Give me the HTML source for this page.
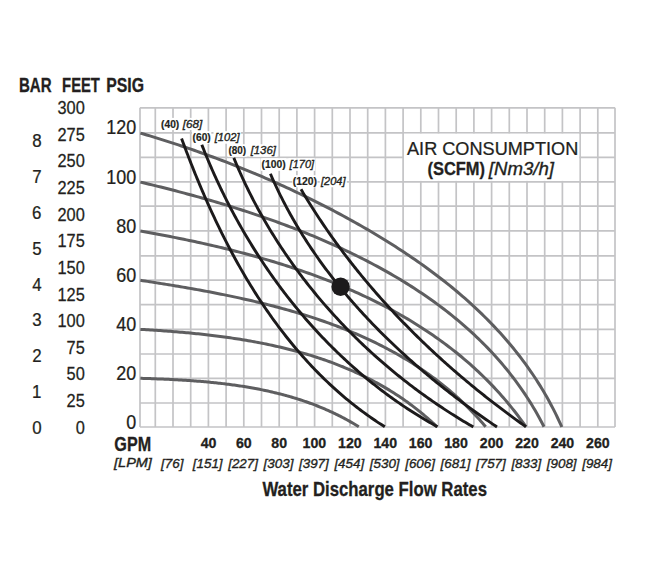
<!DOCTYPE html>
<html><head><meta charset="utf-8"><style>
html,body{margin:0;padding:0;background:#fff;}
svg{display:block;font-family:"Liberation Sans",sans-serif;}
</style></head><body>
<svg width="650" height="564" viewBox="0 0 650 564">
<rect x="0" y="0" width="650" height="564" fill="#fff"/>
<path d="M140.00 107.80V427.00 M155.30 107.80V427.00 M173.00 107.80V427.00 M190.70 107.80V427.00 M208.40 107.80V427.00 M226.10 107.80V427.00 M243.80 107.80V427.00 M261.50 107.80V427.00 M279.20 107.80V427.00 M296.90 107.80V427.00 M314.60 107.80V427.00 M332.30 107.80V427.00 M350.00 107.80V427.00 M367.70 107.80V427.00 M385.40 107.80V427.00 M403.10 107.80V427.00 M420.80 107.80V427.00 M438.50 107.80V427.00 M456.20 107.80V427.00 M473.90 107.80V427.00 M491.60 107.80V427.00 M509.30 107.80V427.00 M527.00 107.80V427.00 M544.70 107.80V427.00 M562.40 107.80V427.00 M580.10 107.80V427.00 M597.80 107.80V427.00 M615.00 107.80V427.00 M140.00 427.00H615.00 M140.00 403.00H615.00 M140.00 378.40H615.00 M140.00 354.00H615.00 M140.00 329.40H615.00 M140.00 304.70H615.00 M140.00 280.20H615.00 M140.00 255.80H615.00 M140.00 230.90H615.00 M140.00 206.20H615.00 M140.00 181.80H615.00 M140.00 157.30H615.00 M140.00 132.80H615.00 M140.00 107.80H615.00" stroke="#c4c4c6" stroke-width="1.70" fill="none"/>
<rect x="404.00" y="133.70" width="175.20" height="47.20" fill="#fff"/>
<path d="M140.40 133.10 L143.58 134.03 L146.75 134.97 L149.92 135.92 L153.08 136.88 L156.25 137.86 L159.41 138.84 L162.57 139.83 L165.73 140.83 L168.88 141.84 L172.04 142.86 L175.19 143.89 L178.34 144.92 L181.48 145.97 L184.62 147.03 L187.77 148.10 L190.90 149.18 L194.04 150.27 L197.17 151.37 L200.30 152.47 L203.43 153.59 L206.55 154.72 L209.67 155.86 L212.79 157.00 L215.90 158.16 L219.02 159.33 L222.13 160.51 L225.23 161.69 L228.33 162.89 L231.43 164.10 L234.53 165.32 L237.62 166.54 L240.71 167.78 L243.80 169.03 L246.88 170.29 L249.96 171.56 L253.03 172.84 L256.10 174.12 L259.17 175.42 L262.23 176.73 L265.29 178.05 L268.35 179.38 L271.40 180.72 L274.45 182.07 L277.50 183.43 L280.54 184.80 L283.57 186.18 L286.61 187.57 L289.64 188.98 L292.66 190.39 L295.68 191.81 L298.70 193.24 L301.71 194.69 L304.71 196.14 L307.72 197.61 L310.72 199.08 L313.71 200.57 L316.70 202.06 L319.68 203.57 L322.66 205.09 L325.64 206.62 L328.61 208.15 L331.58 209.70 L334.54 211.26 L337.49 212.83 L340.45 214.41 L343.39 216.01 L346.33 217.61 L349.27 219.22 L352.20 220.85 L355.13 222.48 L358.05 224.13 L360.96 225.78 L363.87 227.45 L366.77 229.13 L369.67 230.82 L372.56 232.52 L375.44 234.24 L378.31 235.96 L381.18 237.70 L384.04 239.45 L386.89 241.22 L389.73 242.99 L392.56 244.78 L395.38 246.58 L398.20 248.39 L401.00 250.22 L403.80 252.06 L406.58 253.91 L409.35 255.77 L412.12 257.65 L414.87 259.55 L417.61 261.45 L420.34 263.37 L423.06 265.31 L425.77 267.25 L428.46 269.22 L431.14 271.19 L433.81 273.18 L436.47 275.19 L439.11 277.21 L441.74 279.24 L444.35 281.29 L446.95 283.36 L449.54 285.44 L452.11 287.53 L454.67 289.64 L457.21 291.77 L459.73 293.91 L462.24 296.07 L464.74 298.24 L467.22 300.43 L469.68 302.64 L472.12 304.86 L474.55 307.10 L476.96 309.36 L479.35 311.63 L481.73 313.92 L484.08 316.23 L486.42 318.55 L488.74 320.89 L491.04 323.25 L493.32 325.62 L495.59 328.02 L497.83 330.43 L500.05 332.86 L502.25 335.31 L504.43 337.77 L506.59 340.25 L508.73 342.76 L510.85 345.28 L512.95 347.81 L515.02 350.37 L517.08 352.95 L519.11 355.54 L521.11 358.16 L523.10 360.79 L525.06 363.45 L527.00 366.12 L528.91 368.81 L530.80 371.53 L532.67 374.26 L534.51 377.01 L536.33 379.78 L538.12 382.58 L539.89 385.39 L541.63 388.22 L543.34 391.08 L545.03 393.96 L546.69 396.85 L548.33 399.77 L549.94 402.71 L551.52 405.67 L553.07 408.65 L554.60 411.65 L556.10 414.68 L557.57 417.73 L559.01 420.79 L560.42 423.89 L561.81 427.00" stroke="#5e5e60" stroke-width="3.00" fill="none" stroke-linecap="butt"/>
<path d="M140.40 182.10 L143.31 182.79 L146.23 183.49 L149.15 184.19 L152.07 184.90 L154.99 185.62 L157.91 186.34 L160.84 187.07 L163.77 187.81 L166.70 188.55 L169.64 189.30 L172.57 190.06 L175.51 190.82 L178.45 191.59 L181.39 192.36 L184.34 193.15 L187.28 193.94 L190.22 194.74 L193.17 195.54 L196.12 196.36 L199.06 197.18 L202.01 198.00 L204.96 198.84 L207.91 199.68 L210.86 200.54 L213.81 201.39 L216.76 202.26 L219.70 203.14 L222.65 204.02 L225.60 204.91 L228.55 205.81 L231.49 206.72 L234.44 207.64 L237.38 208.57 L240.32 209.50 L243.26 210.45 L246.20 211.40 L249.14 212.36 L252.07 213.33 L255.01 214.31 L257.94 215.30 L260.87 216.30 L263.79 217.31 L266.72 218.33 L269.64 219.35 L272.56 220.39 L275.47 221.44 L278.39 222.50 L281.29 223.56 L284.20 224.64 L287.10 225.73 L290.00 226.82 L292.90 227.93 L295.79 229.05 L298.67 230.18 L301.56 231.32 L304.43 232.47 L307.31 233.63 L310.18 234.80 L313.04 235.98 L315.90 237.18 L318.75 238.38 L321.60 239.60 L324.44 240.83 L327.28 242.06 L330.11 243.31 L332.94 244.58 L335.76 245.85 L338.58 247.13 L341.38 248.43 L344.19 249.74 L346.98 251.06 L349.77 252.39 L352.55 253.74 L355.33 255.10 L358.09 256.47 L360.85 257.85 L363.61 259.24 L366.35 260.65 L369.09 262.07 L371.82 263.50 L374.54 264.95 L377.25 266.41 L379.96 267.88 L382.65 269.37 L385.34 270.87 L388.01 272.38 L390.68 273.91 L393.34 275.45 L395.98 277.00 L398.62 278.57 L401.25 280.15 L403.86 281.75 L406.47 283.36 L409.06 284.98 L411.65 286.62 L414.22 288.28 L416.78 289.95 L419.32 291.63 L421.86 293.33 L424.38 295.04 L426.90 296.77 L429.39 298.52 L431.88 300.28 L434.35 302.05 L436.81 303.84 L439.26 305.65 L441.69 307.47 L444.10 309.31 L446.51 311.17 L448.90 313.04 L451.27 314.93 L453.63 316.83 L455.98 318.75 L458.31 320.69 L460.62 322.64 L462.92 324.61 L465.20 326.60 L467.47 328.60 L469.72 330.62 L471.95 332.66 L474.17 334.72 L476.37 336.79 L478.55 338.88 L480.72 340.99 L482.87 343.12 L485.00 345.26 L487.11 347.42 L489.21 349.60 L491.28 351.80 L493.34 354.02 L495.38 356.26 L497.40 358.51 L499.40 360.78 L501.38 363.08 L503.34 365.39 L505.29 367.72 L507.21 370.06 L509.11 372.43 L510.99 374.82 L512.85 377.23 L514.69 379.65 L516.51 382.10 L518.31 384.57 L520.08 387.05 L521.84 389.56 L523.57 392.08 L525.28 394.63 L526.97 397.20 L528.64 399.78 L530.28 402.39 L531.90 405.02 L533.50 407.67 L535.07 410.34 L536.62 413.03 L538.14 415.74 L539.65 418.47 L541.12 421.23 L542.58 424.00 L544.01 426.80" stroke="#5e5e60" stroke-width="3.00" fill="none" stroke-linecap="butt"/>
<path d="M140.40 231.10 L143.10 231.57 L145.79 232.04 L148.49 232.52 L151.19 233.01 L153.89 233.50 L156.60 234.00 L159.31 234.50 L162.02 235.01 L164.73 235.52 L167.44 236.04 L170.16 236.57 L172.88 237.10 L175.60 237.64 L178.32 238.18 L181.05 238.73 L183.77 239.29 L186.50 239.85 L189.23 240.42 L191.96 241.00 L194.69 241.58 L197.42 242.17 L200.15 242.77 L202.89 243.37 L205.62 243.98 L208.35 244.60 L211.08 245.22 L213.82 245.86 L216.55 246.50 L219.28 247.14 L222.02 247.80 L224.75 248.46 L227.48 249.13 L230.21 249.81 L232.94 250.50 L235.67 251.19 L238.40 251.89 L241.13 252.60 L243.85 253.32 L246.58 254.05 L249.30 254.78 L252.02 255.53 L254.74 256.28 L257.46 257.04 L260.17 257.81 L262.88 258.59 L265.59 259.37 L268.30 260.17 L271.01 260.98 L273.71 261.79 L276.41 262.61 L279.11 263.45 L281.80 264.29 L284.49 265.14 L287.18 266.00 L289.87 266.88 L292.55 267.76 L295.22 268.65 L297.90 269.55 L300.56 270.46 L303.23 271.38 L305.89 272.31 L308.55 273.26 L311.20 274.21 L313.85 275.17 L316.49 276.14 L319.13 277.13 L321.76 278.12 L324.39 279.13 L327.01 280.14 L329.63 281.17 L332.24 282.21 L334.84 283.26 L337.45 284.32 L340.04 285.39 L342.63 286.47 L345.21 287.57 L347.79 288.67 L350.36 289.79 L352.92 290.92 L355.48 292.06 L358.03 293.22 L360.57 294.38 L363.11 295.56 L365.64 296.75 L368.16 297.95 L370.68 299.16 L373.18 300.39 L375.68 301.63 L378.18 302.88 L380.66 304.14 L383.14 305.42 L385.61 306.71 L388.07 308.01 L390.52 309.33 L392.96 310.66 L395.40 312.00 L397.82 313.36 L400.24 314.72 L402.65 316.11 L405.05 317.50 L407.44 318.91 L409.82 320.33 L412.19 321.77 L414.55 323.22 L416.90 324.68 L419.24 326.16 L421.58 327.65 L423.90 329.16 L426.21 330.68 L428.51 332.22 L430.80 333.77 L433.08 335.33 L435.35 336.91 L437.61 338.50 L439.86 340.11 L442.09 341.73 L444.32 343.37 L446.53 345.03 L448.74 346.69 L450.93 348.38 L453.11 350.08 L455.28 351.79 L457.43 353.52 L459.57 355.27 L461.71 357.03 L463.82 358.80 L465.93 360.59 L468.02 362.40 L470.11 364.23 L472.17 366.07 L474.23 367.92 L476.27 369.80 L478.30 371.69 L480.32 373.59 L482.32 375.51 L484.31 377.45 L486.28 379.41 L488.24 381.38 L490.19 383.37 L492.12 385.37 L494.04 387.39 L495.95 389.43 L497.84 391.49 L499.71 393.56 L501.57 395.65 L503.42 397.76 L505.25 399.89 L507.06 402.03 L508.86 404.19 L510.65 406.37 L512.42 408.57 L514.17 410.79 L515.91 413.02 L517.63 415.27 L519.34 417.54 L521.03 419.83 L522.71 422.13 L524.36 424.46 L526.00 426.80" stroke="#5e5e60" stroke-width="3.00" fill="none" stroke-linecap="butt"/>
<path d="M140.40 280.30 L142.74 280.66 L145.09 281.02 L147.43 281.38 L149.78 281.75 L152.14 282.12 L154.49 282.48 L156.85 282.86 L159.21 283.23 L161.57 283.61 L163.93 283.99 L166.30 284.37 L168.67 284.76 L171.03 285.14 L173.41 285.53 L175.78 285.93 L178.15 286.33 L180.53 286.73 L182.90 287.13 L185.28 287.54 L187.66 287.95 L190.04 288.37 L192.42 288.79 L194.81 289.21 L197.19 289.64 L199.57 290.07 L201.96 290.51 L204.34 290.95 L206.73 291.39 L209.11 291.84 L211.50 292.29 L213.88 292.75 L216.27 293.22 L218.65 293.68 L221.04 294.16 L223.42 294.64 L225.81 295.12 L228.19 295.61 L230.58 296.11 L232.96 296.61 L235.34 297.11 L237.72 297.62 L240.10 298.14 L242.48 298.67 L244.86 299.20 L247.24 299.73 L249.61 300.27 L251.99 300.82 L254.36 301.38 L256.73 301.94 L259.10 302.51 L261.47 303.08 L263.83 303.66 L266.19 304.25 L268.56 304.85 L270.91 305.45 L273.27 306.06 L275.63 306.68 L277.98 307.31 L280.33 307.94 L282.67 308.58 L285.02 309.23 L287.36 309.89 L289.70 310.55 L292.03 311.22 L294.36 311.90 L296.69 312.59 L299.02 313.29 L301.34 314.00 L303.66 314.71 L305.97 315.43 L308.28 316.16 L310.59 316.91 L312.89 317.66 L315.19 318.41 L317.48 319.18 L319.77 319.96 L322.06 320.75 L324.34 321.54 L326.62 322.35 L328.89 323.16 L331.16 323.99 L333.42 324.82 L335.68 325.67 L337.93 326.52 L340.18 327.39 L342.43 328.27 L344.66 329.15 L346.90 330.05 L349.12 330.96 L351.34 331.87 L353.56 332.80 L355.77 333.74 L357.97 334.69 L360.17 335.66 L362.36 336.63 L364.55 337.61 L366.73 338.61 L368.90 339.62 L371.07 340.63 L373.23 341.66 L375.38 342.71 L377.53 343.76 L379.67 344.83 L381.80 345.91 L383.93 347.00 L386.05 348.10 L388.16 349.21 L390.27 350.34 L392.36 351.48 L394.45 352.64 L396.54 353.80 L398.61 354.98 L400.68 356.17 L402.74 357.38 L404.79 358.60 L406.83 359.83 L408.87 361.07 L410.89 362.33 L412.91 363.60 L414.92 364.89 L416.92 366.19 L418.91 367.50 L420.90 368.83 L422.87 370.17 L424.84 371.53 L426.80 372.90 L428.75 374.28 L430.68 375.68 L432.61 377.09 L434.53 378.52 L436.45 379.96 L438.35 381.42 L440.24 382.90 L442.12 384.38 L443.99 385.89 L445.85 387.41 L447.70 388.94 L449.55 390.49 L451.38 392.06 L453.20 393.64 L455.01 395.23 L456.81 396.85 L458.60 398.48 L460.38 400.12 L462.14 401.78 L463.90 403.46 L465.65 405.15 L467.38 406.86 L469.11 408.59 L470.82 410.34 L472.52 412.10 L474.21 413.87 L475.89 415.67 L477.55 417.48 L479.21 419.31 L480.85 421.16 L482.48 423.02 L484.10 424.90 L485.70 426.80" stroke="#5e5e60" stroke-width="3.00" fill="none" stroke-linecap="butt"/>
<path d="M140.40 329.40 L142.38 329.51 L144.35 329.62 L146.33 329.74 L148.31 329.85 L150.30 329.97 L152.28 330.10 L154.27 330.22 L156.25 330.35 L158.24 330.48 L160.23 330.62 L162.22 330.76 L164.22 330.90 L166.21 331.04 L168.20 331.19 L170.20 331.34 L172.20 331.49 L174.20 331.65 L176.19 331.81 L178.19 331.98 L180.19 332.15 L182.20 332.32 L184.20 332.50 L186.20 332.68 L188.20 332.86 L190.21 333.05 L192.21 333.24 L194.21 333.44 L196.22 333.64 L198.22 333.85 L200.23 334.06 L202.23 334.28 L204.24 334.50 L206.24 334.72 L208.25 334.95 L210.25 335.18 L212.25 335.42 L214.26 335.67 L216.26 335.92 L218.26 336.17 L220.27 336.43 L222.27 336.70 L224.27 336.97 L226.27 337.25 L228.27 337.53 L230.27 337.82 L232.27 338.11 L234.27 338.41 L236.26 338.71 L238.26 339.03 L240.25 339.34 L242.24 339.67 L244.24 340.00 L246.23 340.33 L248.22 340.67 L250.20 341.02 L252.19 341.38 L254.17 341.74 L256.16 342.11 L258.14 342.48 L260.12 342.86 L262.10 343.25 L264.07 343.65 L266.05 344.05 L268.02 344.46 L269.99 344.88 L271.95 345.30 L273.92 345.73 L275.88 346.17 L277.84 346.62 L279.80 347.07 L281.76 347.53 L283.71 348.00 L285.66 348.48 L287.61 348.96 L289.56 349.45 L291.50 349.95 L293.44 350.46 L295.38 350.98 L297.31 351.50 L299.24 352.04 L301.17 352.58 L303.10 353.13 L305.02 353.69 L306.94 354.25 L308.85 354.83 L310.77 355.42 L312.68 356.01 L314.58 356.61 L316.48 357.22 L318.38 357.84 L320.27 358.47 L322.17 359.11 L324.05 359.76 L325.93 360.42 L327.81 361.08 L329.69 361.76 L331.56 362.44 L333.43 363.14 L335.29 363.84 L337.15 364.56 L339.00 365.28 L340.85 366.02 L342.70 366.76 L344.54 367.52 L346.37 368.28 L348.20 369.06 L350.03 369.84 L351.85 370.64 L353.67 371.45 L355.48 372.26 L357.29 373.09 L359.09 373.93 L360.89 374.78 L362.68 375.64 L364.47 376.51 L366.25 377.39 L368.03 378.29 L369.80 379.19 L371.56 380.11 L373.32 381.03 L375.08 381.97 L376.83 382.92 L378.57 383.88 L380.31 384.85 L382.04 385.84 L383.76 386.83 L385.48 387.84 L387.20 388.86 L388.90 389.89 L390.61 390.94 L392.30 391.99 L393.99 393.06 L395.67 394.14 L397.35 395.24 L399.02 396.34 L400.68 397.46 L402.34 398.59 L403.99 399.73 L405.63 400.89 L407.27 402.06 L408.90 403.24 L410.52 404.44 L412.14 405.64 L413.75 406.86 L415.35 408.10 L416.95 409.34 L418.53 410.61 L420.11 411.88 L421.69 413.17 L423.25 414.47 L424.81 415.78 L426.36 417.11 L427.90 418.45 L429.44 419.81 L430.97 421.18 L432.49 422.56 L434.00 423.96 L435.50 425.37 L437.00 426.80" stroke="#5e5e60" stroke-width="3.00" fill="none" stroke-linecap="butt"/>
<path d="M140.40 378.30 L141.81 378.34 L143.22 378.39 L144.62 378.43 L146.03 378.47 L147.45 378.52 L148.86 378.57 L150.27 378.62 L151.68 378.67 L153.10 378.72 L154.51 378.77 L155.93 378.82 L157.35 378.88 L158.77 378.93 L160.18 378.99 L161.60 379.05 L163.02 379.11 L164.44 379.17 L165.86 379.23 L167.29 379.30 L168.71 379.36 L170.13 379.43 L171.55 379.50 L172.98 379.57 L174.40 379.65 L175.82 379.72 L177.25 379.80 L178.67 379.88 L180.10 379.96 L181.53 380.05 L182.95 380.13 L184.38 380.22 L185.80 380.31 L187.23 380.41 L188.66 380.50 L190.08 380.60 L191.51 380.70 L192.94 380.80 L194.37 380.91 L195.79 381.02 L197.22 381.13 L198.65 381.24 L200.07 381.36 L201.50 381.48 L202.93 381.60 L204.35 381.72 L205.78 381.85 L207.21 381.98 L208.63 382.11 L210.06 382.25 L211.48 382.39 L212.91 382.53 L214.33 382.68 L215.76 382.83 L217.18 382.98 L218.60 383.14 L220.03 383.30 L221.45 383.46 L222.87 383.63 L224.29 383.79 L225.71 383.97 L227.13 384.15 L228.55 384.33 L229.97 384.51 L231.39 384.70 L232.81 384.89 L234.22 385.09 L235.64 385.29 L237.05 385.49 L238.47 385.70 L239.88 385.91 L241.29 386.13 L242.71 386.35 L244.12 386.57 L245.53 386.80 L246.94 387.03 L248.34 387.27 L249.75 387.51 L251.15 387.76 L252.56 388.01 L253.96 388.27 L255.36 388.52 L256.77 388.79 L258.16 389.06 L259.56 389.33 L260.96 389.61 L262.36 389.89 L263.75 390.18 L265.14 390.48 L266.53 390.77 L267.93 391.08 L269.31 391.39 L270.70 391.70 L272.09 392.02 L273.47 392.34 L274.85 392.67 L276.23 393.00 L277.61 393.34 L278.99 393.69 L280.37 394.04 L281.74 394.40 L283.12 394.76 L284.49 395.12 L285.86 395.50 L287.22 395.87 L288.59 396.26 L289.95 396.65 L291.31 397.04 L292.67 397.45 L294.03 397.85 L295.39 398.27 L296.74 398.69 L298.09 399.11 L299.44 399.54 L300.79 399.98 L302.13 400.42 L303.48 400.87 L304.82 401.33 L306.16 401.79 L307.49 402.26 L308.83 402.74 L310.16 403.22 L311.49 403.71 L312.82 404.20 L314.14 404.70 L315.47 405.21 L316.79 405.73 L318.10 406.25 L319.42 406.78 L320.73 407.31 L322.04 407.86 L323.35 408.41 L324.65 408.96 L325.96 409.53 L327.26 410.10 L328.55 410.67 L329.85 411.26 L331.14 411.85 L332.43 412.45 L333.71 413.06 L335.00 413.67 L336.28 414.29 L337.55 414.92 L338.83 415.56 L340.10 416.20 L341.37 416.85 L342.63 417.51 L343.90 418.18 L345.16 418.85 L346.41 419.54 L347.67 420.23 L348.92 420.92 L350.16 421.63 L351.41 422.34 L352.65 423.07 L353.88 423.80 L355.12 424.54 L356.35 425.28 L357.58 426.04 L358.80 426.80" stroke="#5e5e60" stroke-width="3.00" fill="none" stroke-linecap="butt"/>
<path d="M181.60 138.60 L182.37 140.69 L183.14 142.79 L183.92 144.88 L184.71 146.97 L185.50 149.07 L186.29 151.16 L187.09 153.25 L187.89 155.35 L188.70 157.44 L189.51 159.53 L190.33 161.62 L191.15 163.72 L191.98 165.81 L192.81 167.90 L193.64 169.99 L194.49 172.08 L195.33 174.17 L196.19 176.25 L197.04 178.34 L197.91 180.43 L198.77 182.51 L199.65 184.60 L200.52 186.68 L201.41 188.76 L202.30 190.84 L203.19 192.92 L204.09 195.00 L205.00 197.07 L205.91 199.14 L206.82 201.22 L207.75 203.29 L208.67 205.35 L209.61 207.42 L210.55 209.49 L211.49 211.55 L212.44 213.61 L213.40 215.67 L214.36 217.72 L215.33 219.77 L216.30 221.82 L217.28 223.87 L218.27 225.92 L219.26 227.96 L220.26 230.00 L221.26 232.04 L222.27 234.07 L223.29 236.10 L224.31 238.13 L225.34 240.15 L226.37 242.18 L227.41 244.19 L228.46 246.21 L229.51 248.22 L230.58 250.23 L231.64 252.23 L232.72 254.23 L233.80 256.23 L234.88 258.22 L235.97 260.21 L237.07 262.20 L238.18 264.18 L239.29 266.16 L240.41 268.13 L241.54 270.10 L242.67 272.06 L243.81 274.02 L244.96 275.98 L246.11 277.93 L247.28 279.88 L248.44 281.82 L249.62 283.75 L250.80 285.69 L251.99 287.61 L253.19 289.54 L254.39 291.45 L255.60 293.36 L256.82 295.27 L258.04 297.17 L259.28 299.07 L260.52 300.96 L261.76 302.84 L263.02 304.72 L264.28 306.60 L265.55 308.46 L266.83 310.33 L268.11 312.18 L269.40 314.03 L270.70 315.88 L272.01 317.72 L273.33 319.55 L274.65 321.37 L275.98 323.19 L277.32 325.01 L278.67 326.81 L280.02 328.61 L281.38 330.41 L282.75 332.19 L284.13 333.97 L285.52 335.75 L286.91 337.51 L288.32 339.27 L289.73 341.02 L291.15 342.77 L292.57 344.51 L294.01 346.24 L295.45 347.96 L296.91 349.68 L298.37 351.38 L299.84 353.08 L301.31 354.78 L302.80 356.46 L304.29 358.14 L305.80 359.81 L307.31 361.47 L308.83 363.12 L310.36 364.77 L311.89 366.41 L313.44 368.04 L315.00 369.66 L316.56 371.27 L318.13 372.87 L319.71 374.47 L321.30 376.05 L322.90 377.63 L324.51 379.20 L326.13 380.76 L327.76 382.31 L329.39 383.85 L331.04 385.39 L332.69 386.91 L334.35 388.43 L336.02 389.93 L337.71 391.43 L339.40 392.92 L341.10 394.39 L342.81 395.86 L344.53 397.32 L346.25 398.77 L347.99 400.20 L349.74 401.63 L351.50 403.05 L353.26 404.46 L355.04 405.86 L356.83 407.25 L358.62 408.63 L360.43 409.99 L362.24 411.35 L364.07 412.70 L365.90 414.03 L367.75 415.36 L369.60 416.67 L371.47 417.98 L373.34 419.27 L375.22 420.55 L377.12 421.83 L379.02 423.09 L380.94 424.34 L382.86 425.57 L384.80 426.80" stroke="#1c1a1b" stroke-width="2.90" fill="none" stroke-linecap="butt"/>
<path d="M201.80 144.70 L202.65 146.89 L203.52 149.07 L204.39 151.25 L205.27 153.43 L206.16 155.60 L207.05 157.77 L207.96 159.94 L208.87 162.11 L209.79 164.27 L210.72 166.44 L211.66 168.59 L212.61 170.75 L213.56 172.90 L214.53 175.05 L215.50 177.19 L216.48 179.34 L217.46 181.47 L218.46 183.61 L219.46 185.74 L220.48 187.87 L221.50 190.00 L222.53 192.12 L223.56 194.24 L224.61 196.35 L225.66 198.46 L226.73 200.57 L227.80 202.67 L228.87 204.77 L229.96 206.87 L231.05 208.96 L232.16 211.05 L233.27 213.13 L234.39 215.21 L235.51 217.28 L236.65 219.35 L237.79 221.42 L238.94 223.48 L240.10 225.54 L241.27 227.60 L242.45 229.64 L243.63 231.69 L244.82 233.73 L246.02 235.76 L247.23 237.80 L248.45 239.82 L249.67 241.84 L250.90 243.86 L252.14 245.87 L253.39 247.88 L254.64 249.88 L255.91 251.88 L257.18 253.87 L258.46 255.85 L259.75 257.83 L261.04 259.81 L262.35 261.78 L263.66 263.75 L264.98 265.71 L266.30 267.66 L267.64 269.61 L268.98 271.55 L270.33 273.49 L271.69 275.42 L273.06 277.35 L274.43 279.27 L275.82 281.19 L277.21 283.09 L278.60 285.00 L280.01 286.90 L281.42 288.79 L282.84 290.67 L284.27 292.55 L285.71 294.42 L287.16 296.29 L288.61 298.15 L290.07 300.00 L291.54 301.85 L293.01 303.69 L294.50 305.53 L295.99 307.36 L297.49 309.18 L298.99 310.99 L300.51 312.80 L302.03 314.60 L303.56 316.40 L305.10 318.19 L306.64 319.97 L308.20 321.74 L309.76 323.51 L311.32 325.27 L312.90 327.02 L314.48 328.77 L316.07 330.51 L317.67 332.24 L319.28 333.96 L320.89 335.68 L322.51 337.39 L324.14 339.09 L325.78 340.79 L327.42 342.47 L329.08 344.15 L330.73 345.82 L332.40 347.49 L334.08 349.15 L335.76 350.79 L337.45 352.43 L339.14 354.07 L340.85 355.69 L342.56 357.31 L344.28 358.92 L346.01 360.52 L347.74 362.11 L349.48 363.70 L351.23 365.27 L352.99 366.84 L354.75 368.40 L356.52 369.95 L358.30 371.49 L360.09 373.03 L361.88 374.55 L363.68 376.07 L365.49 377.58 L367.30 379.07 L369.13 380.56 L370.96 382.05 L372.80 383.52 L374.64 384.98 L376.49 386.44 L378.35 387.88 L380.22 389.32 L382.09 390.75 L383.98 392.17 L385.86 393.58 L387.76 394.98 L389.66 396.37 L391.57 397.75 L393.49 399.12 L395.42 400.48 L397.35 401.83 L399.29 403.18 L401.24 404.51 L403.19 405.83 L405.15 407.15 L407.12 408.45 L409.09 409.75 L411.08 411.03 L413.07 412.30 L415.06 413.57 L417.07 414.82 L419.08 416.07 L421.10 417.30 L423.12 418.52 L425.16 419.74 L427.20 420.94 L429.24 422.13 L431.30 423.32 L433.36 424.49 L435.43 425.65 L437.50 426.80" stroke="#1c1a1b" stroke-width="2.90" fill="none" stroke-linecap="butt"/>
<path d="M233.80 157.90 L234.68 160.04 L235.57 162.17 L236.47 164.30 L237.38 166.43 L238.30 168.55 L239.22 170.67 L240.16 172.78 L241.11 174.88 L242.07 176.99 L243.03 179.08 L244.01 181.18 L244.99 183.26 L245.99 185.35 L246.99 187.43 L248.00 189.50 L249.02 191.57 L250.05 193.63 L251.09 195.69 L252.14 197.75 L253.20 199.80 L254.27 201.84 L255.34 203.88 L256.43 205.92 L257.52 207.95 L258.63 209.97 L259.74 211.99 L260.86 214.01 L261.99 216.02 L263.13 218.02 L264.27 220.02 L265.43 222.01 L266.59 224.00 L267.77 225.99 L268.95 227.97 L270.14 229.94 L271.34 231.91 L272.55 233.87 L273.76 235.83 L274.99 237.78 L276.22 239.73 L277.46 241.67 L278.71 243.61 L279.97 245.54 L281.23 247.46 L282.51 249.38 L283.79 251.30 L285.08 253.21 L286.38 255.11 L287.69 257.01 L289.00 258.90 L290.32 260.79 L291.65 262.67 L292.99 264.54 L294.34 266.41 L295.70 268.28 L297.06 270.14 L298.43 271.99 L299.81 273.84 L301.19 275.68 L302.59 277.51 L303.99 279.34 L305.40 281.17 L306.81 282.99 L308.24 284.80 L309.67 286.60 L311.11 288.41 L312.56 290.20 L314.01 291.99 L315.47 293.77 L316.94 295.55 L318.42 297.32 L319.90 299.08 L321.39 300.84 L322.89 302.59 L324.40 304.34 L325.91 306.08 L327.43 307.82 L328.96 309.54 L330.49 311.27 L332.04 312.98 L333.58 314.69 L335.14 316.39 L336.70 318.09 L338.27 319.78 L339.85 321.46 L341.43 323.14 L343.02 324.81 L344.62 326.48 L346.22 328.14 L347.83 329.79 L349.45 331.44 L351.07 333.07 L352.70 334.71 L354.34 336.33 L355.98 337.95 L357.63 339.57 L359.29 341.17 L360.95 342.77 L362.62 344.37 L364.30 345.95 L365.98 347.53 L367.67 349.11 L369.37 350.67 L371.07 352.23 L372.77 353.79 L374.49 355.33 L376.21 356.87 L377.93 358.40 L379.66 359.93 L381.40 361.45 L383.15 362.96 L384.90 364.47 L386.65 365.96 L388.42 367.45 L390.18 368.94 L391.96 370.42 L393.74 371.89 L395.52 373.35 L397.31 374.81 L399.11 376.25 L400.91 377.70 L402.72 379.13 L404.53 380.56 L406.35 381.98 L408.18 383.39 L410.01 384.80 L411.85 386.20 L413.69 387.59 L415.53 388.97 L417.39 390.35 L419.24 391.72 L421.11 393.08 L422.98 394.44 L424.85 395.78 L426.73 397.12 L428.61 398.46 L430.50 399.78 L432.39 401.10 L434.29 402.41 L436.20 403.71 L438.11 405.01 L440.02 406.29 L441.94 407.57 L443.87 408.85 L445.80 410.11 L447.73 411.37 L449.67 412.62 L451.61 413.86 L453.56 415.09 L455.51 416.32 L457.47 417.54 L459.43 418.75 L461.40 419.95 L463.37 421.14 L465.35 422.33 L467.33 423.51 L469.32 424.68 L471.31 425.84 L473.30 427.00" stroke="#1c1a1b" stroke-width="2.90" fill="none" stroke-linecap="butt"/>
<path d="M270.40 173.80 L271.26 175.80 L272.14 177.80 L273.03 179.79 L273.92 181.77 L274.83 183.75 L275.74 185.73 L276.66 187.70 L277.60 189.66 L278.54 191.62 L279.49 193.57 L280.45 195.52 L281.42 197.46 L282.40 199.39 L283.39 201.32 L284.39 203.25 L285.39 205.17 L286.41 207.08 L287.43 208.99 L288.46 210.90 L289.50 212.80 L290.55 214.69 L291.61 216.58 L292.68 218.46 L293.75 220.34 L294.84 222.21 L295.93 224.07 L297.03 225.94 L298.14 227.79 L299.26 229.64 L300.39 231.49 L301.52 233.33 L302.66 235.16 L303.81 236.99 L304.97 238.81 L306.14 240.63 L307.31 242.45 L308.49 244.25 L309.68 246.06 L310.88 247.86 L312.09 249.65 L313.30 251.43 L314.52 253.22 L315.75 254.99 L316.99 256.76 L318.23 258.53 L319.48 260.29 L320.74 262.05 L322.01 263.80 L323.28 265.54 L324.56 267.28 L325.85 269.02 L327.15 270.75 L328.45 272.47 L329.76 274.19 L331.08 275.91 L332.40 277.61 L333.73 279.32 L335.07 281.02 L336.41 282.71 L337.76 284.40 L339.12 286.08 L340.49 287.76 L341.86 289.43 L343.24 291.10 L344.62 292.76 L346.01 294.42 L347.41 296.07 L348.81 297.72 L350.22 299.36 L351.64 301.00 L353.06 302.63 L354.49 304.26 L355.92 305.88 L357.36 307.50 L358.81 309.11 L360.27 310.72 L361.72 312.32 L363.19 313.92 L364.66 315.51 L366.14 317.09 L367.62 318.68 L369.11 320.25 L370.60 321.82 L372.10 323.39 L373.61 324.95 L375.12 326.51 L376.63 328.06 L378.15 329.61 L379.68 331.15 L381.21 332.69 L382.75 334.22 L384.29 335.74 L385.84 337.26 L387.39 338.78 L388.95 340.29 L390.51 341.80 L392.08 343.30 L393.66 344.80 L395.23 346.29 L396.82 347.78 L398.40 349.26 L400.00 350.74 L401.59 352.21 L403.19 353.68 L404.80 355.14 L406.41 356.60 L408.03 358.05 L409.65 359.50 L411.27 360.94 L412.90 362.38 L414.53 363.81 L416.17 365.24 L417.81 366.66 L419.46 368.08 L421.10 369.50 L422.76 370.91 L424.42 372.31 L426.08 373.71 L427.74 375.10 L429.41 376.49 L431.08 377.88 L432.76 379.26 L434.44 380.63 L436.13 382.01 L437.81 383.37 L439.51 384.73 L441.20 386.09 L442.90 387.44 L444.60 388.79 L446.31 390.13 L448.01 391.47 L449.73 392.80 L451.44 394.13 L453.16 395.45 L454.88 396.77 L456.60 398.08 L458.33 399.39 L460.06 400.69 L461.79 401.99 L463.53 403.29 L465.27 404.58 L467.01 405.86 L468.76 407.14 L470.50 408.42 L472.25 409.69 L474.01 410.96 L475.76 412.22 L477.52 413.48 L479.28 414.73 L481.04 415.98 L482.80 417.22 L484.57 418.46 L486.34 419.69 L488.11 420.92 L489.89 422.15 L491.66 423.37 L493.44 424.58 L495.22 425.79 L497.00 427.00" stroke="#1c1a1b" stroke-width="2.90" fill="none" stroke-linecap="butt"/>
<path d="M301.00 189.30 L302.06 191.09 L303.12 192.87 L304.19 194.66 L305.27 196.43 L306.35 198.21 L307.43 199.98 L308.52 201.75 L309.62 203.51 L310.72 205.27 L311.83 207.02 L312.94 208.77 L314.06 210.52 L315.18 212.27 L316.31 214.01 L317.45 215.75 L318.59 217.48 L319.73 219.21 L320.88 220.93 L322.03 222.66 L323.19 224.37 L324.36 226.09 L325.53 227.80 L326.70 229.51 L327.88 231.21 L329.07 232.91 L330.26 234.61 L331.46 236.30 L332.66 237.99 L333.86 239.67 L335.07 241.35 L336.29 243.03 L337.51 244.70 L338.73 246.37 L339.96 248.04 L341.20 249.70 L342.44 251.36 L343.68 253.02 L344.93 254.67 L346.19 256.32 L347.45 257.96 L348.71 259.60 L349.98 261.24 L351.25 262.87 L352.53 264.50 L353.81 266.12 L355.10 267.75 L356.39 269.36 L357.69 270.98 L358.99 272.59 L360.30 274.19 L361.61 275.80 L362.92 277.40 L364.24 278.99 L365.56 280.58 L366.89 282.17 L368.23 283.75 L369.56 285.33 L370.91 286.91 L372.25 288.48 L373.60 290.05 L374.96 291.62 L376.32 293.18 L377.68 294.74 L379.05 296.29 L380.42 297.84 L381.80 299.39 L383.18 300.93 L384.57 302.47 L385.96 304.01 L387.35 305.54 L388.75 307.07 L390.15 308.59 L391.56 310.11 L392.97 311.63 L394.38 313.14 L395.80 314.65 L397.22 316.16 L398.65 317.66 L400.08 319.16 L401.52 320.65 L402.95 322.14 L404.40 323.63 L405.84 325.11 L407.30 326.59 L408.75 328.06 L410.21 329.54 L411.67 331.00 L413.14 332.47 L414.61 333.93 L416.08 335.39 L417.56 336.84 L419.04 338.29 L420.53 339.73 L422.02 341.17 L423.51 342.61 L425.01 344.05 L426.51 345.48 L428.01 346.90 L429.52 348.33 L431.03 349.75 L432.55 351.16 L434.07 352.57 L435.59 353.98 L437.11 355.38 L438.64 356.78 L440.18 358.18 L441.71 359.57 L443.25 360.96 L444.80 362.35 L446.35 363.73 L447.90 365.11 L449.45 366.48 L451.01 367.85 L452.57 369.22 L454.13 370.58 L455.70 371.94 L457.27 373.29 L458.84 374.65 L460.42 375.99 L462.00 377.34 L463.59 378.68 L465.17 380.01 L466.76 381.35 L468.36 382.67 L469.95 384.00 L471.55 385.32 L473.16 386.64 L474.76 387.95 L476.37 389.26 L477.98 390.57 L479.60 391.87 L481.22 393.17 L482.84 394.46 L484.46 395.75 L486.09 397.04 L487.72 398.32 L489.36 399.60 L490.99 400.88 L492.63 402.15 L494.27 403.42 L495.92 404.68 L497.57 405.95 L499.22 407.20 L500.87 408.46 L502.53 409.71 L504.19 410.95 L505.85 412.19 L507.51 413.43 L509.18 414.66 L510.85 415.90 L512.52 417.12 L514.20 418.35 L515.88 419.56 L517.56 420.78 L519.24 421.99 L520.93 423.20 L522.62 424.40 L524.31 425.60 L526.00 426.80" stroke="#1c1a1b" stroke-width="2.90" fill="none" stroke-linecap="butt"/>
<circle cx="340.6" cy="286.8" r="9.2" fill="#1c1a1b"/>
<rect x="160.50" y="117.90" width="19.30" height="12.12" fill="#fff"/>
<rect x="181.60" y="117.90" width="22.00" height="12.12" fill="#fff"/>
<rect x="192.00" y="131.13" width="19.30" height="12.60" fill="#fff"/>
<rect x="213.50" y="131.13" width="27.40" height="12.60" fill="#fff"/>
<rect x="227.80" y="144.23" width="18.90" height="12.60" fill="#fff"/>
<rect x="249.40" y="144.23" width="27.80" height="12.60" fill="#fff"/>
<rect x="260.90" y="158.23" width="25.30" height="12.60" fill="#fff"/>
<rect x="288.40" y="158.23" width="26.90" height="12.60" fill="#fff"/>
<rect x="292.20" y="175.22" width="25.30" height="12.00" fill="#fff"/>
<rect x="319.80" y="175.22" width="27.00" height="12.00" fill="#fff"/>
<text transform="translate(18.89 92.30) scale(0.7598 1)" font-size="19.86" font-weight="bold" font-style="normal" fill="#231f20" stroke="#231f20" stroke-width="0.30">BAR</text>
<text transform="translate(62.11 92.10) scale(0.7555 1)" font-size="19.58" font-weight="bold" font-style="normal" fill="#231f20" stroke="#231f20" stroke-width="0.30">FEET</text>
<text transform="translate(106.15 92.30) scale(0.7868 1)" font-size="20.14" font-weight="bold" font-style="normal" fill="#231f20" stroke="#231f20" stroke-width="0.30">PSIG</text>
<text transform="translate(32.25 433.62) scale(0.8800 1)" font-size="19.20" font-weight="normal" font-style="normal" fill="#231f20" stroke="#231f20" stroke-width="0.25">0</text>
<text transform="translate(32.00 397.82) scale(0.8800 1)" font-size="19.20" font-weight="normal" font-style="normal" fill="#231f20" stroke="#231f20" stroke-width="0.25">1</text>
<text transform="translate(32.17 362.12) scale(0.8800 1)" font-size="19.20" font-weight="normal" font-style="normal" fill="#231f20" stroke="#231f20" stroke-width="0.25">2</text>
<text transform="translate(32.25 326.22) scale(0.8800 1)" font-size="19.20" font-weight="normal" font-style="normal" fill="#231f20" stroke="#231f20" stroke-width="0.25">3</text>
<text transform="translate(32.25 290.52) scale(0.8800 1)" font-size="19.20" font-weight="normal" font-style="normal" fill="#231f20" stroke="#231f20" stroke-width="0.25">4</text>
<text transform="translate(32.17 254.53) scale(0.8800 1)" font-size="19.20" font-weight="normal" font-style="normal" fill="#231f20" stroke="#231f20" stroke-width="0.25">5</text>
<text transform="translate(32.08 218.82) scale(0.8800 1)" font-size="19.20" font-weight="normal" font-style="normal" fill="#231f20" stroke="#231f20" stroke-width="0.25">6</text>
<text transform="translate(32.17 183.12) scale(0.8800 1)" font-size="19.20" font-weight="normal" font-style="normal" fill="#231f20" stroke="#231f20" stroke-width="0.25">7</text>
<text transform="translate(32.17 147.22) scale(0.8800 1)" font-size="19.20" font-weight="normal" font-style="normal" fill="#231f20" stroke="#231f20" stroke-width="0.25">8</text>
<text transform="translate(75.68 433.75) scale(0.8900 1)" font-size="18.40" font-weight="normal" font-style="normal" fill="#231f20" stroke="#231f20" stroke-width="0.25">0</text>
<text transform="translate(66.58 407.12) scale(0.8900 1)" font-size="18.40" font-weight="normal" font-style="normal" fill="#231f20" stroke="#231f20" stroke-width="0.25">25</text>
<text transform="translate(66.58 380.49) scale(0.8900 1)" font-size="18.40" font-weight="normal" font-style="normal" fill="#231f20" stroke="#231f20" stroke-width="0.25">50</text>
<text transform="translate(66.58 353.86) scale(0.8900 1)" font-size="18.40" font-weight="normal" font-style="normal" fill="#231f20" stroke="#231f20" stroke-width="0.25">75</text>
<text transform="translate(57.47 327.23) scale(0.8900 1)" font-size="18.40" font-weight="normal" font-style="normal" fill="#231f20" stroke="#231f20" stroke-width="0.25">100</text>
<text transform="translate(57.47 300.60) scale(0.8900 1)" font-size="18.40" font-weight="normal" font-style="normal" fill="#231f20" stroke="#231f20" stroke-width="0.25">125</text>
<text transform="translate(57.47 273.97) scale(0.8900 1)" font-size="18.40" font-weight="normal" font-style="normal" fill="#231f20" stroke="#231f20" stroke-width="0.25">150</text>
<text transform="translate(57.47 247.34) scale(0.8900 1)" font-size="18.40" font-weight="normal" font-style="normal" fill="#231f20" stroke="#231f20" stroke-width="0.25">175</text>
<text transform="translate(57.47 220.71) scale(0.8900 1)" font-size="18.40" font-weight="normal" font-style="normal" fill="#231f20" stroke="#231f20" stroke-width="0.25">200</text>
<text transform="translate(57.47 194.08) scale(0.8900 1)" font-size="18.40" font-weight="normal" font-style="normal" fill="#231f20" stroke="#231f20" stroke-width="0.25">225</text>
<text transform="translate(57.47 167.45) scale(0.8900 1)" font-size="18.40" font-weight="normal" font-style="normal" fill="#231f20" stroke="#231f20" stroke-width="0.25">250</text>
<text transform="translate(57.47 140.82) scale(0.8900 1)" font-size="18.40" font-weight="normal" font-style="normal" fill="#231f20" stroke="#231f20" stroke-width="0.25">275</text>
<text transform="translate(57.47 114.19) scale(0.8900 1)" font-size="18.40" font-weight="normal" font-style="normal" fill="#231f20" stroke="#231f20" stroke-width="0.25">300</text>
<text transform="translate(126.17 429.06) scale(0.9300 1)" font-size="19.30" font-weight="normal" font-style="normal" fill="#231f20" stroke="#231f20" stroke-width="0.25">0</text>
<text transform="translate(116.18 379.96) scale(0.9300 1)" font-size="19.30" font-weight="normal" font-style="normal" fill="#231f20" stroke="#231f20" stroke-width="0.25">20</text>
<text transform="translate(116.18 330.86) scale(0.9300 1)" font-size="19.30" font-weight="normal" font-style="normal" fill="#231f20" stroke="#231f20" stroke-width="0.25">40</text>
<text transform="translate(116.18 281.76) scale(0.9300 1)" font-size="19.30" font-weight="normal" font-style="normal" fill="#231f20" stroke="#231f20" stroke-width="0.25">60</text>
<text transform="translate(116.18 232.66) scale(0.9300 1)" font-size="19.30" font-weight="normal" font-style="normal" fill="#231f20" stroke="#231f20" stroke-width="0.25">80</text>
<text transform="translate(106.20 183.56) scale(0.9300 1)" font-size="19.30" font-weight="normal" font-style="normal" fill="#231f20" stroke="#231f20" stroke-width="0.25">100</text>
<text transform="translate(106.20 134.46) scale(0.9300 1)" font-size="19.30" font-weight="normal" font-style="normal" fill="#231f20" stroke="#231f20" stroke-width="0.25">120</text>
<text transform="translate(114.35 451.40) scale(0.8208 1)" font-size="19.72" font-weight="bold" font-style="normal" fill="#231f20" stroke="#231f20" stroke-width="0.30">GPM</text>
<text transform="translate(200.71 447.69) scale(0.9700 1)" font-size="14.60" font-weight="bold" font-style="normal" fill="#231f20" stroke="#231f20" stroke-width="0.30">40</text>
<text transform="translate(235.97 447.69) scale(0.9700 1)" font-size="14.60" font-weight="bold" font-style="normal" fill="#231f20" stroke="#231f20" stroke-width="0.30">60</text>
<text transform="translate(271.37 447.69) scale(0.9700 1)" font-size="14.60" font-weight="bold" font-style="normal" fill="#231f20" stroke="#231f20" stroke-width="0.30">80</text>
<text transform="translate(302.62 447.69) scale(0.9700 1)" font-size="14.60" font-weight="bold" font-style="normal" fill="#231f20" stroke="#231f20" stroke-width="0.30">100</text>
<text transform="translate(338.02 447.69) scale(0.9700 1)" font-size="14.60" font-weight="bold" font-style="normal" fill="#231f20" stroke="#231f20" stroke-width="0.30">120</text>
<text transform="translate(373.42 447.69) scale(0.9700 1)" font-size="14.60" font-weight="bold" font-style="normal" fill="#231f20" stroke="#231f20" stroke-width="0.30">140</text>
<text transform="translate(408.82 447.69) scale(0.9700 1)" font-size="14.60" font-weight="bold" font-style="normal" fill="#231f20" stroke="#231f20" stroke-width="0.30">160</text>
<text transform="translate(444.22 447.69) scale(0.9700 1)" font-size="14.60" font-weight="bold" font-style="normal" fill="#231f20" stroke="#231f20" stroke-width="0.30">180</text>
<text transform="translate(479.83 447.69) scale(0.9700 1)" font-size="14.60" font-weight="bold" font-style="normal" fill="#231f20" stroke="#231f20" stroke-width="0.30">200</text>
<text transform="translate(515.23 447.69) scale(0.9700 1)" font-size="14.60" font-weight="bold" font-style="normal" fill="#231f20" stroke="#231f20" stroke-width="0.30">220</text>
<text transform="translate(550.63 447.69) scale(0.9700 1)" font-size="14.60" font-weight="bold" font-style="normal" fill="#231f20" stroke="#231f20" stroke-width="0.30">240</text>
<text transform="translate(586.03 447.69) scale(0.9700 1)" font-size="14.60" font-weight="bold" font-style="normal" fill="#231f20" stroke="#231f20" stroke-width="0.30">260</text>
<text transform="translate(114.09 466.84) scale(1.1429 1)" font-size="12.66" font-weight="normal" font-style="italic" fill="#231f20" stroke="#231f20" stroke-width="0.35">[LPM]</text>
<text transform="translate(161.11 467.78) scale(1.0000 1)" font-size="13.40" font-weight="normal" font-style="italic" fill="#231f20" stroke="#231f20" stroke-width="0.35">[76]</text>
<text transform="translate(192.78 467.78) scale(1.0000 1)" font-size="13.40" font-weight="normal" font-style="italic" fill="#231f20" stroke="#231f20" stroke-width="0.35">[151]</text>
<text transform="translate(228.18 467.78) scale(1.0000 1)" font-size="13.40" font-weight="normal" font-style="italic" fill="#231f20" stroke="#231f20" stroke-width="0.35">[227]</text>
<text transform="translate(263.58 467.78) scale(1.0000 1)" font-size="13.40" font-weight="normal" font-style="italic" fill="#231f20" stroke="#231f20" stroke-width="0.35">[303]</text>
<text transform="translate(298.98 467.78) scale(1.0000 1)" font-size="13.40" font-weight="normal" font-style="italic" fill="#231f20" stroke="#231f20" stroke-width="0.35">[397]</text>
<text transform="translate(334.38 467.78) scale(1.0000 1)" font-size="13.40" font-weight="normal" font-style="italic" fill="#231f20" stroke="#231f20" stroke-width="0.35">[454]</text>
<text transform="translate(369.78 467.78) scale(1.0000 1)" font-size="13.40" font-weight="normal" font-style="italic" fill="#231f20" stroke="#231f20" stroke-width="0.35">[530]</text>
<text transform="translate(405.18 467.78) scale(1.0000 1)" font-size="13.40" font-weight="normal" font-style="italic" fill="#231f20" stroke="#231f20" stroke-width="0.35">[606]</text>
<text transform="translate(440.58 467.78) scale(1.0000 1)" font-size="13.40" font-weight="normal" font-style="italic" fill="#231f20" stroke="#231f20" stroke-width="0.35">[681]</text>
<text transform="translate(475.98 467.78) scale(1.0000 1)" font-size="13.40" font-weight="normal" font-style="italic" fill="#231f20" stroke="#231f20" stroke-width="0.35">[757]</text>
<text transform="translate(511.38 467.78) scale(1.0000 1)" font-size="13.40" font-weight="normal" font-style="italic" fill="#231f20" stroke="#231f20" stroke-width="0.35">[833]</text>
<text transform="translate(546.78 467.78) scale(1.0000 1)" font-size="13.40" font-weight="normal" font-style="italic" fill="#231f20" stroke="#231f20" stroke-width="0.35">[908]</text>
<text transform="translate(582.18 467.78) scale(1.0000 1)" font-size="13.40" font-weight="normal" font-style="italic" fill="#231f20" stroke="#231f20" stroke-width="0.35">[984]</text>
<text transform="translate(262.40 495.80) scale(0.8378 1)" font-size="20.00" font-weight="bold" font-style="normal" fill="#231f20" stroke="#231f20" stroke-width="0.30">Water Discharge Flow Rates</text>
<text transform="translate(407.00 155.20) scale(1.0349 1)" font-size="17.54" font-weight="normal" font-style="normal" fill="#231f20" stroke="#231f20" stroke-width="0.25">AIR CONSUMPTION</text>
<text transform="translate(427.44 174.67) scale(0.8787 1)" font-size="18.72" font-weight="bold" font-style="normal" fill="#231f20" stroke="#231f20" stroke-width="0.30">(SCFM)</text>
<text transform="translate(488.87 174.94) scale(1.0661 1)" font-size="17.45" font-weight="normal" font-style="italic" fill="#231f20" stroke="#231f20" stroke-width="0.35">[Nm3/h]</text>
<text transform="translate(161.09 127.72) scale(0.9404 1)" font-size="10.85" font-weight="bold" font-style="normal" fill="#231f20" stroke="#231f20" stroke-width="0.20">(40)</text>
<text transform="translate(182.83 127.72) scale(1.0778 1)" font-size="10.85" font-weight="normal" font-style="italic" fill="#231f20" stroke="#231f20" stroke-width="0.35">[68]</text>
<text transform="translate(192.59 141.33) scale(0.9049 1)" font-size="11.28" font-weight="bold" font-style="normal" fill="#231f20" stroke="#231f20" stroke-width="0.20">(60)</text>
<text transform="translate(214.72 141.33) scale(0.9939 1)" font-size="11.28" font-weight="normal" font-style="italic" fill="#231f20" stroke="#231f20" stroke-width="0.35">[102]</text>
<text transform="translate(228.40 154.43) scale(0.8840 1)" font-size="11.28" font-weight="bold" font-style="normal" fill="#231f20" stroke="#231f20" stroke-width="0.20">(80)</text>
<text transform="translate(250.63 154.43) scale(1.0095 1)" font-size="11.28" font-weight="normal" font-style="italic" fill="#231f20" stroke="#231f20" stroke-width="0.35">[136]</text>
<text transform="translate(261.49 168.43) scale(0.9177 1)" font-size="11.28" font-weight="bold" font-style="normal" fill="#231f20" stroke="#231f20" stroke-width="0.20">(100)</text>
<text transform="translate(289.62 168.43) scale(0.9743 1)" font-size="11.28" font-weight="normal" font-style="italic" fill="#231f20" stroke="#231f20" stroke-width="0.35">[170]</text>
<text transform="translate(292.79 184.94) scale(0.9632 1)" font-size="10.74" font-weight="bold" font-style="normal" fill="#231f20" stroke="#231f20" stroke-width="0.20">(120)</text>
<text transform="translate(321.02 184.94) scale(1.0267 1)" font-size="10.74" font-weight="normal" font-style="italic" fill="#231f20" stroke="#231f20" stroke-width="0.35">[204]</text>
</svg>
</body></html>
